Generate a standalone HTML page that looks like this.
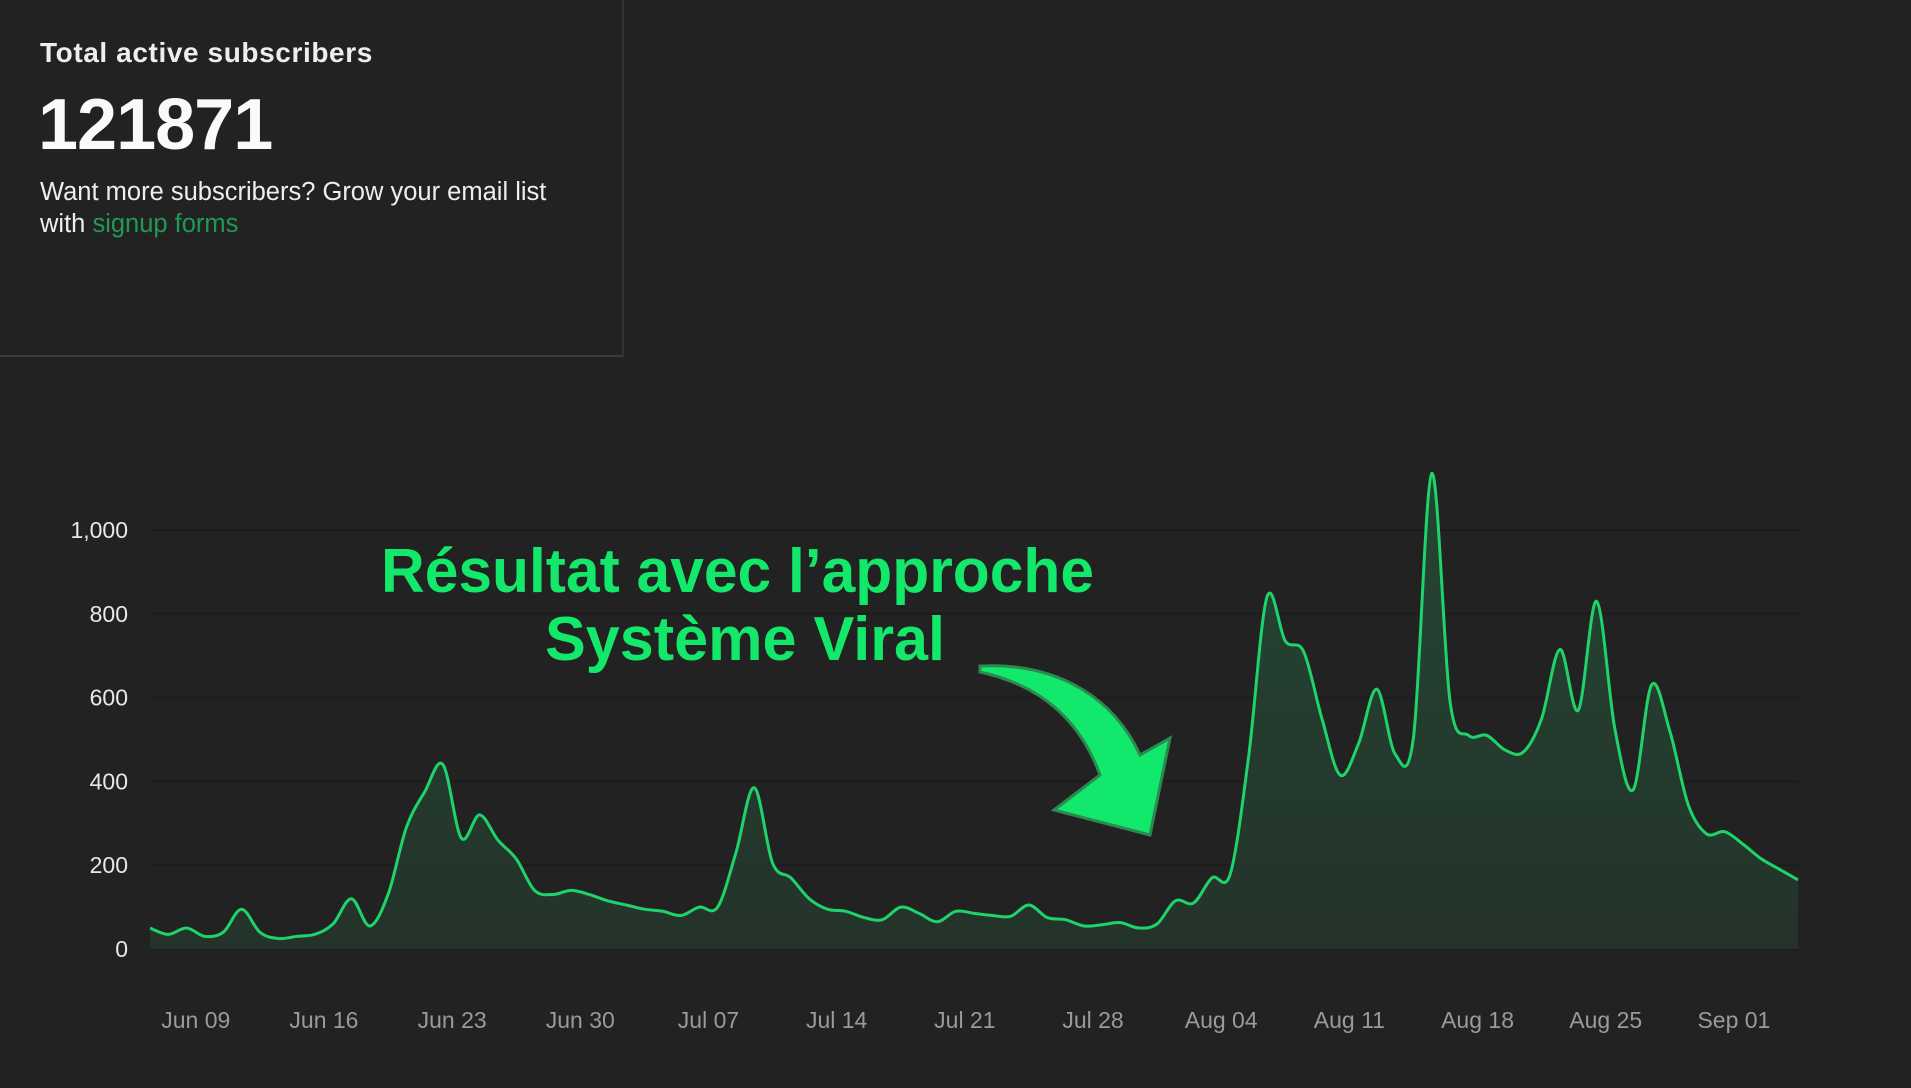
<!DOCTYPE html>
<html><head><meta charset="utf-8">
<style>
html,body{margin:0;padding:0;background:#222222;width:1911px;height:1088px;overflow:hidden;font-family:"Liberation Sans",sans-serif;}
#panel{position:absolute;left:0;top:0;width:622px;height:355px;border-right:2px solid #333;border-bottom:2px solid #33403a;}
#title{position:absolute;left:40px;top:37px;font-size:28px;font-weight:bold;color:#eee;letter-spacing:0.6px;}
#big{position:absolute;left:38px;top:84px;font-size:72px;font-weight:bold;color:#fafafa;letter-spacing:-1px;}
#desc{position:absolute;left:40px;top:176px;font-size:25.5px;line-height:32px;color:#eee;width:560px;}
#desc a{color:#1f9a55;text-decoration:none;}
#chart{position:absolute;left:0;top:0;}
</style></head><body>
<div id="panel">
<div id="title">Total active subscribers</div>
<div id="big">121871</div>
<div id="desc">Want more subscribers? Grow your email list<br>with <a>signup forms</a></div>
</div>
<svg id="chart" width="1911" height="1088">
<defs><linearGradient id="g" x1="0" y1="0" x2="0" y2="1"><stop offset="0" stop-color="#244a35" stop-opacity="0.9"/><stop offset="1" stop-color="#24352b" stop-opacity="0.9"/></linearGradient></defs>
<g id="grid"></g><g id="yl"></g><g id="xl"></g>
<path id="area" fill="url(#g)"/>
<path id="line" fill="none" stroke="#1ed36a" stroke-width="3"/>
<text x="381" y="592" textLength="713" lengthAdjust="spacingAndGlyphs" font-family="Liberation Sans, sans-serif" font-weight="bold" font-size="62" fill="#14e86a">Résultat avec l’approche</text>
<text x="545" y="660" textLength="400" lengthAdjust="spacingAndGlyphs" font-family="Liberation Sans, sans-serif" font-weight="bold" font-size="62" fill="#14e86a">Système Viral</text>
<path d="M980,666 C1060,662 1115,700 1140,755 L1170,738 L1150,835 L1054,810 L1100,775 C1080,720 1040,685 980,672 Z" fill="#12e86c" stroke="#2a8a50" stroke-width="3"/>
</svg>
<script>
const yTicks=[0,200,400,600,800,1000];
const yTickLabels=["0","200","400","600","800","1,000"];
const xTickLabels=["Jun 09","Jun 16","Jun 23","Jun 30","Jul 07","Jul 14","Jul 21","Jul 28","Aug 04","Aug 11","Aug 18","Aug 25","Sep 01"];
const xTickDays=[2.5,9.5,16.5,23.5,30.5,37.5,44.5,51.5,58.5,65.5,72.5,79.5,86.5];
const values=[50,35,50,30,40,95,40,25,30,35,60,120,55,130,290,375,440,265,320,260,215,140,130,140,130,115,105,95,90,80,100,100,230,385,205,170,120,95,90,75,70,100,85,65,90,85,80,78,105,75,70,55,58,63,50,60,115,110,170,180,460,840,735,710,550,415,490,620,465,505,1135,590,510,510,475,470,550,715,570,830,525,380,630,520,345,275,280,250,215,190,165];
const NS='http://www.w3.org/2000/svg';
const X0=150,X1=1798,Y0=949,Y1000=530;
const xs=i=>X0+(X1-X0)*i/(values.length-1);
const ys=v=>Y0-(Y0-Y1000)*v/1000;
const grid=document.getElementById('grid'),yl=document.getElementById('yl'),xl=document.getElementById('xl');
yTicks.forEach((t,k)=>{
 const l=document.createElementNS(NS,'line');
 l.setAttribute('x1',X0);l.setAttribute('x2',X1);l.setAttribute('y1',ys(t));l.setAttribute('y2',ys(t));
 l.setAttribute('stroke','#1c1c1c');l.setAttribute('stroke-width','2');
 
 
 grid.appendChild(l);
 const tx=document.createElementNS(NS,'text');
 tx.setAttribute('x',128);tx.setAttribute('y',ys(t)+8);tx.setAttribute('text-anchor','end');
 tx.setAttribute('font-size','23');tx.setAttribute('fill','#e8e8e8');
 tx.textContent=yTickLabels[k];
 
 
 yl.appendChild(tx);
});
xTickLabels.forEach((s,k)=>{
 const tx=document.createElementNS(NS,'text');
 tx.setAttribute('x',xs(xTickDays[k]));tx.setAttribute('y',1028);tx.setAttribute('text-anchor','middle');
 tx.setAttribute('font-size','23');tx.setAttribute('fill','#9a9a9a');
 tx.textContent=s;
 
 
 xl.appendChild(tx);
});
const pts=values.map((v,i)=>[xs(i),ys(v)]);
let d='M'+pts[0][0]+','+pts[0][1];
for(let i=0;i<pts.length-1;i++){
 const p0=pts[Math.max(0,i-1)],p1=pts[i],p2=pts[i+1],p3=pts[Math.min(pts.length-1,i+2)];
 const c1=[p1[0]+(p2[0]-p0[0])/6,p1[1]+(p2[1]-p0[1])/6],c2=[p2[0]-(p3[0]-p1[0])/6,p2[1]-(p3[1]-p1[1])/6];
 d+=' C'+c1[0]+','+c1[1]+' '+c2[0]+','+c2[1]+' '+p2[0]+','+p2[1];
}
document.getElementById('line').setAttribute('d',d);
document.getElementById('area').setAttribute('d',d+' L'+X1+','+Y0+' L'+X0+','+Y0+' Z');
</script>
</body></html>
